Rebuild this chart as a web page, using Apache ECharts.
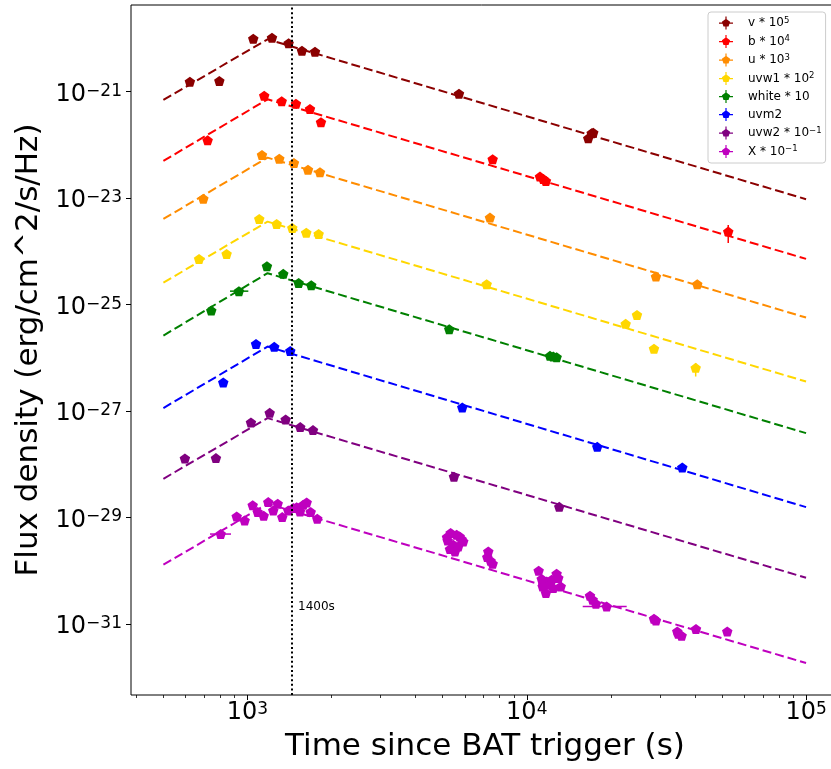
<!DOCTYPE html>
<html>
<head>
<meta charset="UTF-8">
<script src="https://cdn.jsdelivr.net/npm/echarts@6/dist/echarts.min.js"></script>
<style>
html, body { margin: 0; padding: 0; background: #ffffff; }
#paint { width: 831px; height: 769px; }
</style>
</head>
<body>
<div id="paint"></div>
<script>
// measured points, [time since trigger (s), scaled flux density]
var vPoints = [[622, 1.54e-21], [793, 1.59e-21], [1049, 9.89e-21], [1224, 1.03e-20], [1404, 8.11e-21],
    [1567, 5.89e-21], [1745, 5.64e-21], [5719, 9.17e-22], [16600, 1.33e-22], [17080, 1.66e-22], [17300, 1.70e-22]];
var bPoints = [[720, 1.22e-22], [1148, 8.41e-22], [1326, 6.60e-22], [1491, 5.95e-22], [1674, 4.73e-22],
    [1833, 2.66e-22], [7549, 5.38e-23], [11150, 2.54e-23], [11460, 2.30e-23], [11710, 2.11e-23], [52640, 2.35e-24]];
var uPoints = [[695, 9.79e-24], [1127, 6.48e-23], [1300, 5.52e-23], [1467, 4.58e-23], [1647, 3.43e-23],
    [1818, 3.07e-23], [7383, 4.31e-24], [29010, 3.36e-25], [40780, 2.42e-25]];
var uvw1Points = [[671, 7.23e-25], [842, 8.97e-25], [1102, 4.07e-24], [1272, 3.28e-24], [1447, 2.76e-24],
    [1624, 2.25e-24], [1798, 2.13e-24], [7185, 2.42e-25], [22600, 4.35e-26], [24810, 6.41e-26],
    [28540, 1.48e-26], [40250, 6.49e-27]];
var whitePoints = [[742, 7.73e-26], [932, 1.79e-25], [1174, 5.27e-25], [1343, 3.78e-25], [1525, 2.56e-25],
    [1692, 2.32e-25], [5278, 3.46e-26], [12110, 1.09e-26], [12440, 1.06e-26], [12790, 1.03e-26]];
var uvm2Points = [[819, 3.44e-27], [1073, 1.83e-26], [1247, 1.61e-26], [1423, 1.35e-26], [5876, 1.17e-27],
    [17880, 2.13e-28], [36040, 8.71e-29]];
var uvw2Points = [[597, 1.29e-28], [771, 1.31e-28], [1029, 6.10e-28], [1201, 9.27e-28], [1370, 6.94e-28],
    [1545, 5.00e-28], [1716, 4.39e-28], [5486, 5.83e-29], [13070, 1.59e-29]];
var xrtPoints = [[802, 4.90e-30], [915, 1.05e-29], [977, 8.81e-30], [1044, 1.71e-29], [1088, 1.27e-29],
    [1143, 1.08e-29], [1187, 1.95e-29], [1237, 1.36e-29], [1283, 1.82e-29], [1332, 1.02e-29], [1400, 1.36e-29],
    [1459, 1.51e-29], [1500, 1.57e-29], [1542, 1.30e-29], [1584, 1.74e-29], [1629, 1.92e-29], [1684, 1.27e-29],
    [1778, 9.48e-30],
    [5339, 5.12e-30], [5610, 4.75e-30], [5846, 3.94e-30], [5209, 3.71e-30], [5455, 3.08e-30], [5685, 2.86e-30],
    [5309, 2.56e-30], [5533, 2.31e-30], [5924, 3.56e-30], [5180, 4.30e-30], [5750, 4.40e-30],
    [7281, 2.31e-30], [7221, 1.81e-30], [7425, 1.54e-30], [7549, 1.36e-30],
    [11030, 1.00e-30], [11310, 7.00e-31], [11790, 6.31e-31], [11400, 5.08e-31], [11710, 3.82e-31],
    [12280, 6.79e-31], [12790, 8.79e-31], [12970, 7.31e-31], [12440, 4.74e-31], [13230, 5.08e-31],
    [12040, 5.47e-31],
    [16840, 3.40e-31], [17220, 2.86e-31], [17690, 2.40e-31], [19320, 2.14e-31],
    [28540, 1.26e-31], [29010, 1.17e-31],
    [34580, 7.26e-32], [35850, 6.03e-32], [34870, 6.58e-32], [40350, 8.05e-32], [52220, 7.26e-32]];

// broken power-law fits: flux at start, break and end times
var modelTimes = [500, 1180, 100000];
var vModel = [6.98e-22, 9.64e-21, 9.55e-24];
var bModel = [5.00e-23, 7.19e-22, 7.23e-25];
var uModel = [4.07e-24, 5.77e-23, 5.71e-26];
var uvw1Model = [2.59e-25, 3.62e-24, 3.59e-27];
var whiteModel = [2.62e-26, 3.89e-25, 3.85e-28];
var uvm2Model = [1.14e-27, 1.63e-26, 1.57e-29];
var uvw2Model = [5.35e-29, 7.38e-28, 7.40e-31];
var xrtModel = [1.30e-30, 1.82e-29, 1.85e-32];

// visible error bars: [band, t1, f1, t2, f2]
var errorBars = [
    [4, 866, 1.79e-25, 1007, 1.79e-25],
    [7, 734, 4.90e-30, 873, 4.90e-30],
    [7, 15860, 2.14e-31, 22790, 2.14e-31],
    [1, 52640, 1.43e-24, 52640, 3.14e-24],
    [3, 40250, 4.46e-27, 40250, 7.95e-27]
];

var bandNames = ['v * 10^5', 'b * 10^4', 'u * 10^3', 'uvw1 * 10^2', 'white * 10', 'uvm2', 'uvw2 * 10^-1', 'X * 10^-1'];
var legendBase = ['v * 10', 'b * 10', 'u * 10', 'uvw1 * 10', 'white * 10', 'uvm2', 'uvw2 * 10', 'X * 10'];
var legendSup = ['5', '4', '3', '2', '', '', '\u22121', '\u22121'];
var bandColors = ['#8b0000', '#ff0000', '#ff8c00', '#ffd700', '#008000', '#0000ff', '#800080', '#bf00bf'];

var xMajorTicks = [1000, 10000, 100000];
var xMinorTicks = [400, 500, 600, 700, 800, 900, 2000, 3000, 4000, 5000, 6000, 7000, 8000, 9000,
    20000, 30000, 40000, 50000, 60000, 70000, 80000, 90000];
var yTicks = [1e-31, 1e-29, 1e-27, 1e-25, 1e-23, 1e-21];
var markTime = 1435;

var pentagon = 'path://M0,-1L0.951,-0.309L0.588,0.809L-0.588,0.809L-0.951,-0.309Z';
var legendIcon = 'path://M0,6L14,6L14,7.2L0,7.2ZM6.4,0L7.6,0L7.6,13L6.4,13ZM7,2.3L11.09,5.27L9.53,10.08L4.47,10.08L2.91,5.27Z';

var pointSets = [vPoints, bPoints, uPoints, uvw1Points, whitePoints, uvm2Points, uvw2Points, xrtPoints];
var modelSets = [vModel, bModel, uModel, uvw1Model, whiteModel, uvm2Model, uvw2Model, xrtModel];

function powLabel(val) {
    var e = Math.round(Math.log10(val));
    return '{b|10}{s|' + (e < 0 ? '\u2212' + (-e) : e) + '}';
}

var series = [];
modelSets.forEach(function (m, i) {
    series.push({
        name: bandNames[i] + ' fit',
        type: 'line',
        xAxisIndex: 0,
        data: modelTimes.map(function (t, k) { return [t, m[k]]; }),
        symbol: 'none',
        lineStyle: { color: bandColors[i], width: 2, type: [9, 4] },
        z: 2
    });
});
pointSets.forEach(function (p, i) {
    series.push({
        name: bandNames[i],
        type: 'scatter',
        xAxisIndex: 0,
        data: p,
        symbol: pentagon,
        symbolSize: [10.5, 10],
        itemStyle: { color: bandColors[i], opacity: 1 },
        z: 4
    });
});
series.push({
    name: 'errors',
    type: 'custom',
    xAxisIndex: 0,
    data: errorBars,
    encode: { x: [1, 3], y: [2, 4] },
    renderItem: function (params, api) {
        var p1 = api.coord([api.value(1), api.value(2)]);
        var p2 = api.coord([api.value(3), api.value(4)]);
        return {
            type: 'line',
            shape: { x1: p1[0], y1: p1[1], x2: p2[0], y2: p2[1] },
            style: { stroke: bandColors[api.value(0)], lineWidth: 1.5 }
        };
    },
    z: 3
});
series.push({
    name: 'mark',
    type: 'line',
    xAxisIndex: 0,
    data: [],
    markLine: {
        silent: true,
        symbol: 'none',
        label: { show: false },
        lineStyle: { color: '#000000', width: 2, type: [2, 2.6] },
        data: [{ xAxis: markTime }]
    },
    z: 5
});

var chart = echarts.init(document.getElementById('paint'), null, { renderer: 'canvas' });
chart.setOption({
    animation: false,
    backgroundColor: '#ffffff',
    textStyle: { fontFamily: 'DejaVu Sans' },
    grid: {
        left: 131, top: 5, width: 708, height: 690,
        show: true, borderColor: '#000000', borderWidth: 1,
        containLabel: false, outerBoundsMode: 'none'
    },
    legend: {
        orient: 'vertical',
        left: 708, top: 12,
        padding: [4, 4, 5, 11],
        itemGap: 5,
        itemWidth: 14, itemHeight: 13,
        backgroundColor: 'rgba(255,255,255,0.85)',
        borderColor: '#cccccc', borderWidth: 1, borderRadius: 3,
        data: bandNames.map(function (n) { return { name: n, icon: legendIcon }; }),
        formatter: function (name) {
            var i = bandNames.indexOf(name);
            var s = '{sp|}{b|' + legendBase[i] + '}';
            if (legendSup[i]) s += '{s|' + legendSup[i] + '}';
            return s;
        },
        textStyle: {
            color: '#000000',
            rich: {
                sp: { width: 10 },
                b: { fontSize: 12, lineHeight: 14, color: '#000000' },
                s: { fontSize: 8.5, verticalAlign: 'top', color: '#000000' }
            }
        }
    },
    xAxis: [{
        type: 'log',
        min: 382.8, max: 131200,
        name: 'Time since BAT trigger (s)',
        nameLocation: 'middle',
        nameGap: 36,
        nameTextStyle: { fontSize: 31, color: '#000000' },
        axisLine: { show: false },
        splitLine: { show: false },
        axisTick: { show: true, length: 5, inside: false, customValues: xMajorTicks, lineStyle: { color: '#000000', width: 1 } },
        axisLabel: {
            customValues: xMajorTicks,
            margin: 6,
            formatter: powLabel,
            rich: {
                b: { fontSize: 24, color: '#000000' },
                s: { fontSize: 17, verticalAlign: 'top', color: '#000000' }
            }
        }
    }, {
        type: 'log',
        min: 382.8, max: 131200,
        position: 'bottom',
        axisLine: { show: false },
        splitLine: { show: false },
        axisLabel: { show: false },
        axisTick: { show: true, length: 3, customValues: xMinorTicks, lineStyle: { color: '#000000', width: 0.8 } }
    }],
    yAxis: {
        type: 'log',
        min: 4.645e-33, max: 4.246e-20,
        name: 'Flux density (erg/cm^2/s/Hz)',
        nameLocation: 'middle',
        nameGap: 76,
        nameTextStyle: { fontSize: 31, color: '#000000' },
        axisLine: { show: false },
        splitLine: { show: false },
        axisTick: { show: true, length: 5, customValues: yTicks, lineStyle: { color: '#000000', width: 1 } },
        axisLabel: {
            customValues: yTicks,
            margin: 9,
            padding: [6, 0, 0, 0],
            formatter: powLabel,
            rich: {
                b: { fontSize: 24, color: '#000000' },
                s: { fontSize: 17, verticalAlign: 'top', color: '#000000' }
            }
        }
    },
    graphic: [{
        type: 'text', left: 298, top: 601,
        style: { text: '1400s', font: '12px "DejaVu Sans"', fill: '#000000' }
    }],
    series: series
});
</script>
</body>
</html>
